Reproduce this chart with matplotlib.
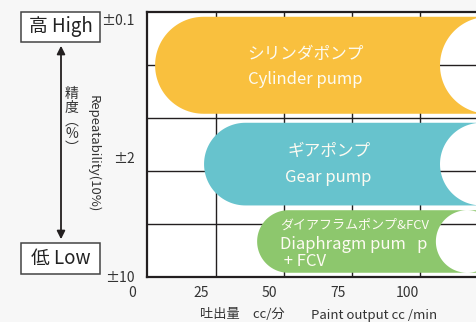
import numpy as np
import matplotlib.pyplot as plt
from matplotlib.path import Path
from matplotlib.patches import PathPatch, Rectangle, FancyArrowPatch

plt.rcParams['font.family'] = ['Noto Sans CJK JP', 'DejaVu Sans']

# pump ranges: output (cc/min) where each band starts / where its right end is cut,
# and the repeatability band in chart rows (0 = ±10 at bottom, 5 = top)
pumps_jp = ['シリンダポンプ', 'ギアポンプ', 'ダイアフラムポンプ&FCV']
pumps_en = ['Cylinder pump', 'Gear pump', 'Diaphragm pum   p\n + FCV']
out_start = [8.4, 26.2, 45.5]
out_cut = [112.0, 112.0, 110.5]
band_top = [4.91, 2.91, 1.26]
band_bottom = [3.08, 1.35, 0.08]
colors = ['#F9C03E', '#67C3CD', '#8DC76D']

x_ticks = [0, 25, 50, 75, 100]
y_ticks = [0, 2.26, 4.85]
y_labels = ['±10', '±2', '±0.1']

ink = '#231f20'
W, H = 477, 322
fig = plt.figure(figsize=(W / 100, H / 100), dpi=100, facecolor='#f7f7f7')
ax = fig.add_axes([147 / W, (H - 277) / H, (477 - 147) / W, (277 - 12) / H])
ax.set_facecolor('white')
x0, x1 = (147 - 132) / 2.75, (477 - 132) / 2.75
ax.set_xlim(x0, x1)
ax.set_ylim(0, 5)

# grid
for gx in [30.4, 55.3, 80.0, 104.7]:
    ax.axvline(gx, color=ink, lw=1.0, zorder=1)
for gy in [1, 2, 3, 4]:
    ax.axhline(gy, color=ink, lw=1.0, zorder=1)

for side in ['top', 'left', 'bottom']:
    ax.spines[side].set_linewidth(1.6)
    ax.spines[side].set_color(ink)
ax.spines['right'].set_visible(False)

# px per data unit, to keep the rounded ends circular
sx = (477 - 147) / (x1 - x0)
sy = (277 - 12) / 5.0


def pill_path(xs, xc, yb, yt):
    h = (yt - yb) / 2
    yc = (yt + yb) / 2
    rx = h * sy / sx
    t = np.linspace(np.pi / 2, 3 * np.pi / 2, 60)
    outer = [(xs + rx + rx * np.cos(a), yc + h * np.sin(a)) for a in t]
    far = x1 + 20
    outer += [(far, yb), (far, yt), (xs + rx, yt)]
    # hole cut out on the right end
    cx = xc + rx
    t2 = np.linspace(np.pi / 2, np.pi / 2 - 2 * np.pi, 120)
    hole = [(cx + rx * np.cos(a), yc + h * np.sin(a)) for a in t2]
    verts = outer + hole
    codes = ([Path.MOVETO] + [Path.LINETO] * (len(outer) - 1)
             + [Path.MOVETO] + [Path.LINETO] * (len(hole) - 1))
    return Path(verts, codes)


for i in range(len(pumps_jp)):
    ax.add_patch(PathPatch(pill_path(out_start[i], out_cut[i], band_bottom[i], band_top[i]),
                           facecolor=colors[i], edgecolor='none', zorder=2))

txt = '#fdfbf2'
ax.text(63.0, 4.19, pumps_jp[0], color=txt, fontsize=12, ha='center', va='center', zorder=3)
ax.text(63.0, 3.72, pumps_en[0], color=txt, fontsize=12, ha='center', va='center', zorder=3)
ax.text(71.5, 2.36, pumps_jp[1], color=txt, fontsize=12, ha='center', va='center', zorder=3)
ax.text(71.5, 1.87, pumps_en[1], color=txt, fontsize=12, ha='center', va='center', zorder=3)
ax.text(53.8, 0.98, pumps_jp[2], color=txt, fontsize=9.4, ha='left', va='center', zorder=3)
ax.text(53.8, 0.78, pumps_en[2], color=txt, fontsize=12, ha='left', va='top',
        linespacing=1.0, zorder=3)

# ticks
ax.set_xticks([])
ax.set_yticks(y_ticks, y_labels)
ax.tick_params(axis='y', length=0, pad=9, labelsize=10, labelcolor='#333333')
xlab_tr = ax.get_xaxis_transform()
for v in x_ticks:
    ax.annotate(str(v), xy=(v, 0), xycoords=xlab_tr, xytext=(0, -16),
                textcoords='offset pixels', ha='center', va='center',
                fontsize=10, color='#333333', annotation_clip=False)

fig.text(200 / W, 1 - 315 / H, '吐出量　cc/分', fontsize=9.5, color='#333333', ha='left', va='center')
fig.text(311 / W, 1 - 315 / H, 'Paint output cc /min', fontsize=9.5, color='#333333',
         ha='left', va='center')

# high / low boxes with the double arrow
for (top, bot, label) in [(11.7, 41.7, '高 High'), (243, 274, '低 Low')]:
    fig.patches.append(Rectangle((21 / W, 1 - bot / H), 79 / W, (bot - top) / H,
                                 transform=fig.transFigure, facecolor='white',
                                 edgecolor='#444444', lw=1.1))
    fig.text(60.5 / W, 1 - (top + bot) / 2 / H, label, fontsize=13.5, color='#222222',
             ha='center', va='center')

fig.patches.append(FancyArrowPatch((61 / W, 1 - 43 / H), (61 / W, 1 - 242 / H),
                                   transform=fig.transFigure, arrowstyle='<|-|>',
                                   mutation_scale=12, lw=1.3, color=ink))
fig.text(72 / W, 1 - 121 / H, '精\n度\n︵\n%\n︶', fontsize=10, color='#333333',
         ha='center', va='center', linespacing=0.95)
fig.text(93 / W, 1 - 154 / H, 'Repeatability(10%)', fontsize=9.5, color='#333333',
         ha='center', va='center', rotation=270)

fig.savefig('out.png', dpi=100, facecolor=fig.get_facecolor())
